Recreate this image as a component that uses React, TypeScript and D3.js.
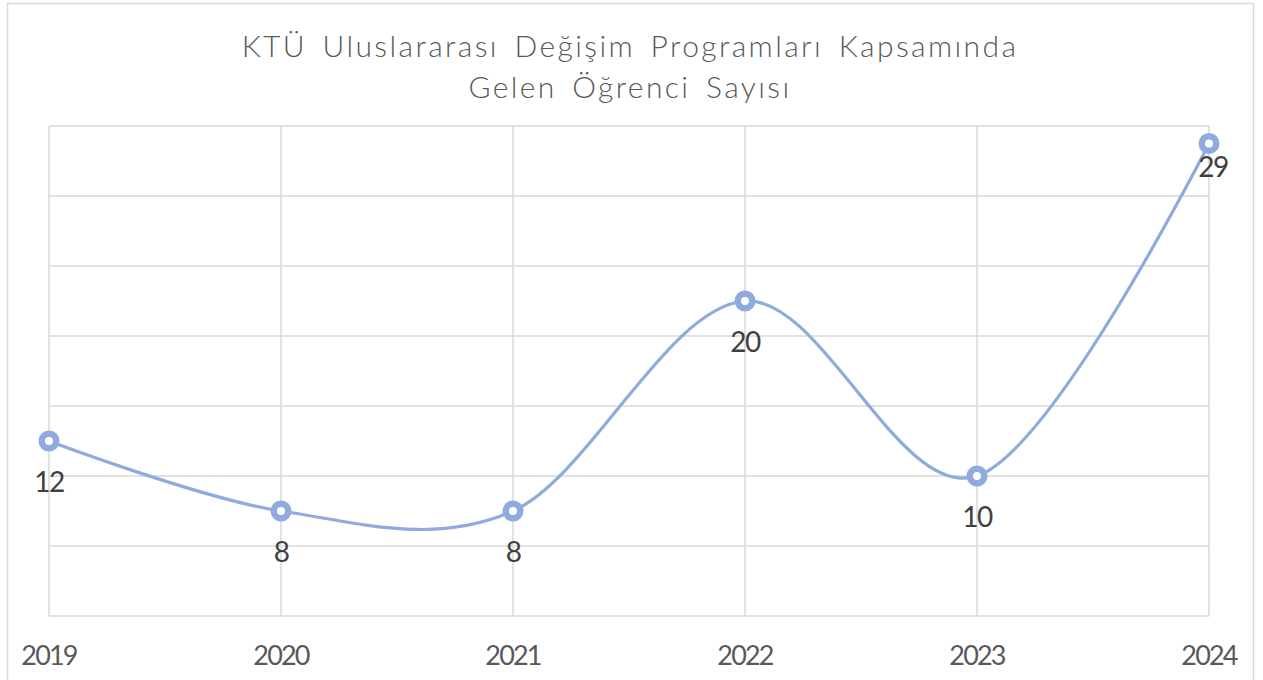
import React, { useEffect, useRef } from "react";
import * as d3 from "d3";

// chart data
const years = ["2019", "2020", "2021", "2022", "2023", "2024"];
const students = [12, 8, 8, 20, 10, 29];
const yTicks = [2, 6, 10, 14, 18, 22, 26, 30];
const titleLines = ["KTÜ Uluslararası Değişim Programları Kapsamında", "Gelen Öğrenci Sayısı"];

const W = 1263;
const H = 680;
const FONT = "'Lato', 'Noto Sans', sans-serif";

export default function App() {
  const ref = useRef<SVGSVGElement>(null);

  useEffect(() => {
    const svg = d3.select(ref.current);
    svg.selectAll("*").remove();

    // outer chart frame
    svg
      .append("rect")
      .attr("x", 7.5)
      .attr("y", 3.5)
      .attr("width", 1246)
      .attr("height", 700)
      .attr("fill", "#fff")
      .attr("stroke", "#d9d9d9")
      .attr("stroke-width", 1.5);

    var x = d3.scalePoint<string>().domain(years).range([49, 1209]);
    var y = d3.scaleLinear().domain([2, 30]).range([616, 126]);

    // horizontal grid
    svg
      .selectAll("line.hgrid")
      .data(yTicks)
      .enter()
      .append("line")
      .attr("x1", 49)
      .attr("x2", 1209)
      .attr("y1", d => y(d))
      .attr("y2", d => y(d))
      .attr("stroke", "#d9d9d9")
      .attr("stroke-width", 1.5);

    // vertical grid
    svg
      .selectAll("line.vgrid")
      .data(years)
      .enter()
      .append("line")
      .attr("x1", d => x(d)!)
      .attr("x2", d => x(d)!)
      .attr("y1", y(30))
      .attr("y2", y(2))
      .attr("stroke", "#d9d9d9")
      .attr("stroke-width", 1.5);

    // title
    svg
      .selectAll("text.title")
      .data(titleLines)
      .enter()
      .append("text")
      .attr("x", 630)
      .attr("y", (d, i) => 57 + i * 41)
      .attr("text-anchor", "middle")
      .attr("fill", "#595959")
      .attr("font-family", FONT)
      .attr("font-weight", 300)
      .attr("font-size", 30)
      .attr("letter-spacing", 2.4)
      .attr("word-spacing", 5)
      .text(d => d);

    // category labels
    svg
      .selectAll("text.cat")
      .data(years)
      .enter()
      .append("text")
      .attr("x", d => x(d)!)
      .attr("y", 665)
      .attr("text-anchor", "middle")
      .attr("fill", "#595959")
      .attr("font-family", FONT)
      .attr("font-size", 27)
      .attr("letter-spacing", -1.8)
      .text(d => d);

    var pts: [number, number][] = years.map((yr, i) => [x(yr)!, y(students[i])]);

    var line = d3.line().curve(d3.curveCardinal.tension(0));
    svg
      .append("path")
      .attr("d", line(pts))
      .attr("fill", "none")
      .attr("stroke", "#8faadc")
      .attr("stroke-width", 3.2);

    svg
      .selectAll("circle.pt")
      .data(pts)
      .enter()
      .append("circle")
      .attr("cx", d => d[0])
      .attr("cy", d => d[1])
      .attr("r", 10.5)
      .attr("fill", "#8faadc");
    svg
      .selectAll("circle.hole")
      .data(pts)
      .enter()
      .append("circle")
      .attr("cx", d => d[0])
      .attr("cy", d => d[1])
      .attr("r", 4)
      .attr("fill", "#fff");

    // data labels (last one sits closer, as in the source)
    svg
      .selectAll("text.val")
      .data(pts)
      .enter()
      .append("text")
      .attr("x", (d, i) => d[0] + (i === years.length - 1 ? 4 : 0))
      .attr("y", (d, i) => d[1] + (i === years.length - 1 ? 33 : 51))
      .attr("text-anchor", "middle")
      .attr("fill", "#404040")
      .attr("font-family", FONT)
      .attr("font-size", 28)
      .attr("letter-spacing", -1.5)
      .text((d, i) => students[i]);
  }, []);

  return (
    <svg
      ref={ref}
      width={W}
      height={H}
      style={{ position: "absolute", left: 0, top: 0, background: "#fff" }}
    />
  );
}
